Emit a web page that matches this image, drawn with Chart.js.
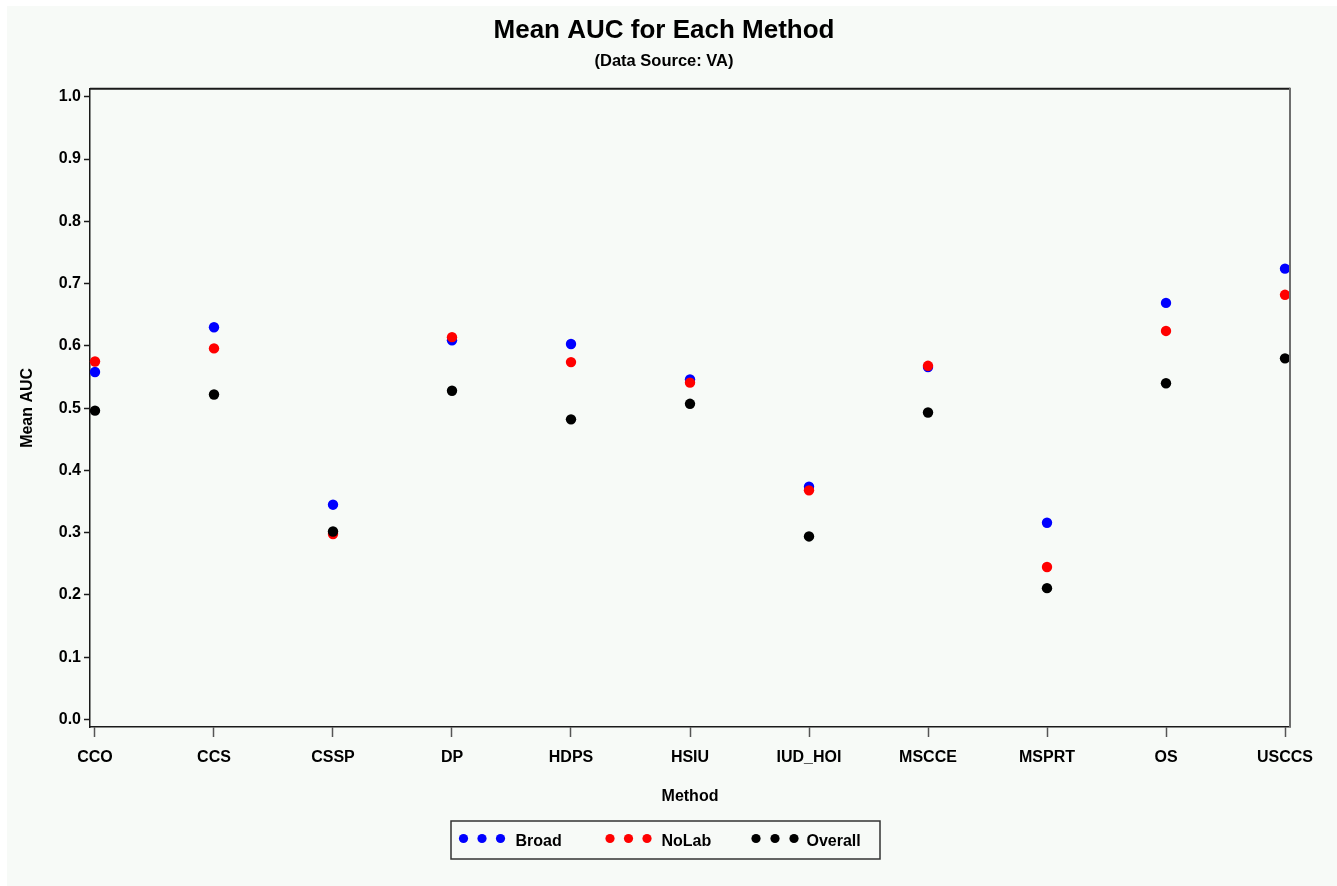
<!DOCTYPE html>
<html>
<head>
<meta charset="utf-8">
<title>Mean AUC for Each Method</title>
<script src="https://cdn.jsdelivr.net/npm/chart.js@4/dist/chart.umd.min.js"></script>
<style>
  html, body { margin: 0; padding: 0; background: #ffffff; }
  #wrap { position: relative; width: 1337px; height: 886px; }
</style>
</head>
<body>
<div id="wrap"><canvas id="chart" width="1337" height="886"></canvas></div>
<script>
// Methods on the horizontal axis
const methods = ['CCO', 'CCS', 'CSSP', 'DP', 'HDPS', 'HSIU', 'IUD_HOI', 'MSCCE', 'MSPRT', 'OS', 'USCCS'];

// Mean AUC per method for each outcome definition
const broad   = [0.558, 0.630, 0.345, 0.609, 0.603, 0.546, 0.374, 0.566, 0.316, 0.669, 0.724];
const noLab   = [0.575, 0.596, 0.298, 0.614, 0.574, 0.541, 0.368, 0.568, 0.245, 0.624, 0.682];
const overall = [0.496, 0.522, 0.302, 0.528, 0.482, 0.507, 0.294, 0.493, 0.211, 0.540, 0.580];

// Vertical axis tick values
const yTicks = [0.0, 0.1, 0.2, 0.3, 0.4, 0.5, 0.6, 0.7, 0.8, 0.9, 1.0];

const seriesNames = ['Broad', 'NoLab', 'Overall'];
const seriesColors = ['#0000ff', '#ff0000', '#000000'];

const FONT = "'Liberation Sans', Arial, Helvetica, sans-serif";
const PANEL = '#f7faf7';

const toPoints = vals => vals.map((v, i) => ({ x: i, y: v }));

// Light panel behind the whole figure
const panelPlugin = {
  id: 'panel',
  beforeDraw(chart) {
    const { ctx, width, height } = chart;
    ctx.save();
    ctx.fillStyle = '#ffffff';
    ctx.fillRect(0, 0, width, height);
    ctx.fillStyle = PANEL;
    ctx.fillRect(7, 6, width - 7, height - 6);
    ctx.restore();
  }
};

// Top and right sides of the plot frame
const framePlugin = {
  id: 'frame',
  afterDatasetsDraw(chart) {
    const { ctx, chartArea: a } = chart;
    ctx.save();
    ctx.lineWidth = 2;
    ctx.strokeStyle = '#1a1a1a';
    ctx.beginPath();
    ctx.moveTo(a.left, a.top);
    ctx.lineTo(a.right, a.top);
    ctx.stroke();
    ctx.strokeStyle = '#6e6e6e';
    ctx.beginPath();
    ctx.moveTo(a.right, a.top - 1);
    ctx.lineTo(a.right, a.bottom);
    ctx.stroke();
    ctx.restore();
  }
};

// Boxed legend with three dots per series
const dotLegendPlugin = {
  id: 'dotLegend',
  afterDraw(chart) {
    const { ctx } = chart;
    const box = { x: 451, y: 821, w: 429, h: 38 };
    const items = [
      { dots: [463.5, 482, 500.5], textX: 515.5 },
      { dots: [610, 628.5, 647], textX: 661.5 },
      { dots: [756, 775, 794], textX: 806.5 }
    ];
    ctx.save();
    ctx.lineWidth = 1.5;
    ctx.strokeStyle = '#333333';
    ctx.strokeRect(box.x, box.y, box.w, box.h);
    ctx.font = 'bold 16px ' + FONT;
    ctx.textBaseline = 'middle';
    ctx.textAlign = 'left';
    chart.data.datasets.forEach((ds, i) => {
      const it = items[i];
      ctx.fillStyle = ds.backgroundColor;
      it.dots.forEach(dx => {
        ctx.beginPath();
        ctx.arc(dx, 838.5, 4.6, 0, Math.PI * 2);
        ctx.fill();
      });
      ctx.fillStyle = '#000000';
      ctx.fillText(ds.label, it.textX, 842);
    });
    ctx.restore();
  }
};

const datasets = [broad, noLab, overall].map((vals, i) => ({
  label: seriesNames[i],
  data: toPoints(vals),
  backgroundColor: seriesColors[i],
  borderColor: seriesColors[i],
  borderWidth: 0,
  pointRadius: 5.2,
  pointHoverRadius: 5.2,
  pointStyle: 'circle',
  showLine: false,
  order: 2 - i,
  clip: { left: 10, top: 10, right: 0, bottom: 10 }
}));

new Chart(document.getElementById('chart'), {
  type: 'scatter',
  data: { datasets },
  plugins: [panelPlugin, framePlugin, dotLegendPlugin],
  options: {
    responsive: false,
    animation: false,
    devicePixelRatio: 1,
    layout: { padding: { top: 0, left: 0, right: 9, bottom: 0 } },
    plugins: {
      legend: { display: false },
      tooltip: { enabled: false },
      title: {
        display: true,
        text: 'Mean AUC for Each Method',
        color: '#000000',
        font: { family: FONT, size: 26, weight: 'bold', lineHeight: 1.2 },
        padding: { top: 15.4, bottom: 0 }
      },
      subtitle: {
        display: true,
        text: '(Data Source: VA)',
        color: '#000000',
        font: { family: FONT, size: 16.5, weight: 'bold', lineHeight: 1.2 },
        padding: { top: 5, bottom: 17.3 }
      }
    },
    scales: {
      x: {
        type: 'linear',
        min: -0.042,
        max: 10.042,
        afterFit(scale) { scale.height = 159; },
        afterBuildTicks(scale) { scale.ticks = methods.map((m, i) => ({ value: i })); },
        ticks: {
          autoSkip: false,
          maxRotation: 0,
          minRotation: 0,
          padding: 11,
          color: '#000000',
          font: { family: FONT, size: 16, weight: 'bold', lineHeight: 1.2 },
          callback: (v) => methods[v]
        },
        grid: {
          drawOnChartArea: false,
          drawTicks: true,
          tickLength: 10,
          tickWidth: 1.5,
          tickColor: '#555555'
        },
        border: { display: true, color: '#1a1a1a', width: 1.5 },
        title: {
          display: true,
          text: 'Method',
          color: '#000000',
          font: { family: FONT, size: 16, weight: 'bold', lineHeight: 1.2 },
          padding: { top: 0, bottom: 79.5 }
        }
      },
      y: {
        type: 'linear',
        min: -0.012,
        max: 1.013,
        afterFit(scale) { scale.width = 90; },
        afterBuildTicks(scale) { scale.ticks = yTicks.map(v => ({ value: v })); },
        ticks: {
          padding: 3,
          color: '#000000',
          font: { family: FONT, size: 16, weight: 'bold', lineHeight: 1.2 },
          callback: (v) => Number(v).toFixed(1)
        },
        grid: {
          drawOnChartArea: false,
          drawTicks: true,
          tickLength: 6,
          tickWidth: 1.5,
          tickColor: '#1a1a1a'
        },
        border: { display: true, color: '#1a1a1a', width: 1.5 },
        title: {
          display: true,
          text: 'Mean AUC',
          color: '#000000',
          font: { family: FONT, size: 16, weight: 'bold', lineHeight: 1.2 },
          padding: { top: 18.4, bottom: 0 }
        }
      },
      // empty right-hand margin so the plot frame ends where the titles stay centred
      yRight: {
        type: 'linear',
        position: 'right',
        display: true,
        afterFit(scale) { scale.width = 38; },
        grid: { display: false, drawTicks: false },
        ticks: { display: false },
        border: { display: false }
      }
    }
  }
});
</script>
</body>
</html>
